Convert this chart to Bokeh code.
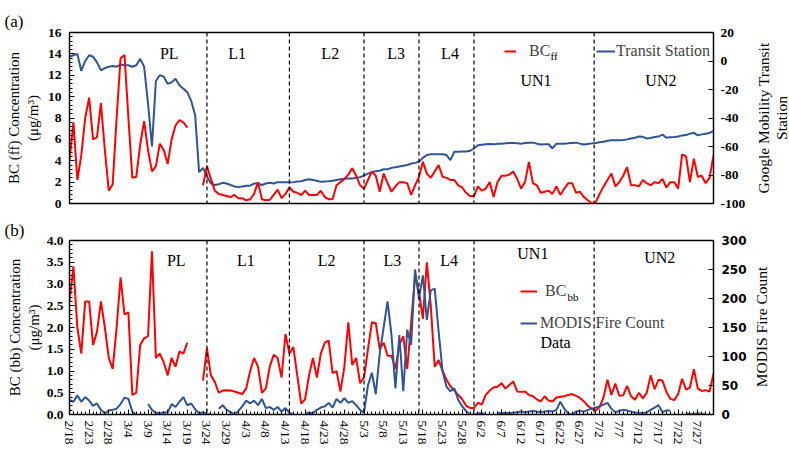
import math
import datetime
import numpy as np
from bokeh.plotting import figure
from bokeh.models import (Range1d, LinearAxis, FixedTicker, Span, Label, Legend,
                          LegendItem, ColumnDataSource, Title)
from bokeh.layouts import column, row
from bokeh.embed import file_html
from bokeh.resources import INLINE

nan = float("nan")

# ---------------- data ----------------
start_date = datetime.date(2020, 2, 18)
n_days = 165
day_index = list(range(n_days))
date_labels = [f"{d.month}/{d.day}" for d in
               (start_date + datetime.timedelta(days=i) for i in day_index)]

bc_ff = [
    4.0, 7.6, 2.2, 4.5, 8.0, 9.9, 6.0, 6.2, 9.4, 5.0,
    1.2, 1.8, 8.0, 13.6, 13.9, 8.0, 2.4, 2.5, 5.5, 7.7,
    5.0, 3.0, 3.5, 5.6, 5.0, 3.7, 6.0, 7.3, 7.8, 7.6,
    7.1, nan, nan, nan, 1.7, 3.5, 2.3, 1.2, 0.9, 0.8,
    0.7, 0.6, 0.8, 0.5, 0.5, 0.3, 0.4, 0.9, 2.0, 0.4,
    0.3, 0.35, 0.8, 1.3, 0.5, 0.9, 1.5, 1.1, 1.0, 0.8,
    1.2, 0.8, 0.8, 0.8, 1.2, 0.6, 0.4, 0.4, 1.7, 2.0,
    2.3, 2.7, 3.3, 2.6, 1.7, 1.4, 2.2, 3.0, 2.6, 1.1,
    2.8, 1.9, 1.1, 1.6, 2.0, 2.0, 1.9, 0.8, 1.7, 2.5,
    3.9, 2.8, 2.4, 3.0, 3.6, 2.5, 2.4, 2.2, 2.2, 1.7,
    1.5, 1.0, 0.7, 0.7, 1.6, 1.2, 1.4, 2.0, 0.6, 2.0,
    2.6, 2.6, 2.7, 3.0, 2.3, 1.4, 2.0, 3.9, 1.9, 1.7,
    1.0, 1.1, 1.2, 0.9, 1.6, 0.8, 1.4, 1.9, 1.9, 1.0,
    1.1, 0.6, 0.3, 0.0, 0.1, 0.9, 1.6, 2.2, 2.8, 1.6,
    2.0, 2.6, 3.4, 1.7, 1.7, 1.6, 2.2, 1.9, 1.7, 2.0,
    1.9, 2.3, 1.5, 2.0, 2.0, 1.4, 4.6, 4.4, 2.0, 4.2,
    2.5, 2.6, 1.9, 2.4, 4.5,
]

transit = [
    3, 4, 5, -7, 0, 4, 3, -1, -6.5, -5,
    -4, -3.5, -4, -2.5, -3, -3, -4, -3, 1.5, -4,
    -30, -60, -14, -10, -11, -16, -15, -12.5, -17, -19.5,
    -22, -28, -38, -78, -75, -81, -86, -87, -86.5, -85.5,
    -86, -87, -88, -88.5, -88, -87.5, -87.5, -86, -86, -87,
    -86, -85.5, -86, -85, -85, -85, -85.3, -85, -84.5, -84.4,
    -83.5, -83, -83.5, -84, -84.8, -84.5, -84.4, -84, -83.5, -83,
    -82.7, -82.5, -82.5, -82, -81.5, -80.5, -79, -78, -77.3, -77,
    -76, -76, -75, -74.5, -74, -73.5, -73, -72, -71.5, -70.7,
    -68, -66, -65.4, -65.4, -65.4, -65.5, -66, -69.6, -63.7, -63.7,
    -63.5, -63.5, -63, -61.4, -59.1, -58.7, -58.4, -58.2, -58.5, -58,
    -58, -57.8, -57.5, -57.5, -57.7, -58, -57.6, -57.3, -57.3, -58,
    -58.6, -58.5, -58.4, -61.4, -58, -58, -58, -57.8, -57.5, -57.3,
    -58, -58.6, -58.2, -57.8, -57.5, -57, -56.7, -56, -55.6, -55.6,
    -55.6, -55.4, -55, -54.4, -53.9, -53, -53.2, -54.4, -54, -53.3,
    -53, -51.6, -53.9, -53.5, -53.3, -53, -52.2, -52, -51, -50.4,
    -52.2, -51.5, -51, -50.5, -49,
]

bc_bb = [
    2.6, 3.4, 2.0, 1.4, 2.6, 2.6, 1.6, 1.9, 2.6, 2.0,
    1.3, 1.05, 2.0, 3.15, 2.3, 2.35, 0.45, 0.5, 1.6, 1.75,
    1.8, 3.75, 1.3, 1.4, 1.2, 0.9, 1.3, 1.1, 1.45, 1.4,
    1.65, nan, nan, nan, 0.78, 1.52, 0.9, 0.75, 0.5, 0.55,
    0.56, 0.55, 0.53, 0.5, 0.47, 0.6, 1.0, 1.3, 1.1, 0.5,
    0.6, 1.1, 1.37, 1.3, 0.85, 1.85, 1.4, 1.55, 0.9, 0.25,
    0.35, 0.9, 1.3, 0.85, 1.4, 1.65, 1.7, 0.95, 1.0, 0.53,
    1.1, 2.12, 1.14, 1.3, 0.72, 0.85, 1.5, 2.12, 2.1, 1.5,
    1.65, 1.35, 1.35, 1.05, 1.6, 1.8, 1.05, 2.1, 3.2, 2.8,
    2.2, 3.5, 2.5, 1.1, 1.25, 1.0, 0.8, 0.65, 0.55, 0.45,
    0.35, 0.2, 0.15, 0.15, 0.27, 0.23, 0.45, 0.55, 0.62, 0.64,
    0.72, 0.6, 0.68, 0.76, 0.53, 0.52, 0.53, 0.45, 0.42, 0.35,
    0.3, 0.42, 0.32, 0.3, 0.39, 0.41, 0.42, 0.45, 0.47, 0.43,
    0.38, 0.3, 0.2, 0.13, 0.09, 0.17, 0.4, 0.8, 0.45, 0.71,
    0.43, 0.44, 0.66, 0.42, 0.34, 0.5, 0.37, 0.5, 0.9, 0.58,
    0.8, 0.78, 0.52, 0.36, 0.33, 0.47, 0.82, 0.57, 0.62, 1.04,
    0.6, 0.54, 0.56, 0.53, 0.94,
]

fire = [
    25, 22, 33, 22, 30, 24, 15, 19, 8, 2,
    7, 8, 10, 18, 29, 27, 5, 0, nan, nan,
    18, 8, 3, 2, 4, 3, 18, 13, 22, 30,
    16, 19, 9, 2, 4, 1, 0, nan, 10, 16,
    8, 4, 0, 6, 14, 24, 19, 24, 16, 27,
    11, 13, 8, 13, 5, 11, 3, 0, nan, nan,
    2, 3, 2, 8, 12, 14, 20, 12, 27, 20,
    28, 20, 23, 16, 8, 3, 50, 72, 35, 105,
    150, 195, 137, 45, 137, 40, 146, 120, 250, 200,
    240, 163, 214, 217, 143, 75, 48, 40, 45, 25,
    14, 6, 0, 0, 2, 2, 1, nan, nan, 3,
    2, 3, 2, 3, 4, 5, 4, 5, 6, 5,
    4, 5, 6, 5, 8, 22, 10, 2, 0, 5,
    6, 5, 8, 10, 12, 14, 17, 20, 10, 4,
    6, 8, 7, 5, 3, 3, 2, 4, 8, 12,
    16, 4, 7, 7, nan, nan, nan, 2, 1, 1,
    2, 1, 1, nan, nan,
]

phase_bounds = [35, 56, 75, 89, 103, 133.6]
phase_names = ["PL", "L1", "L2", "L3", "L4", "UN1", "UN2"]

left_ticks_a = [0, 2, 4, 6, 8, 10, 12, 14, 16]
right_ticks_a = [-100, -80, -60, -40, -20, 0, 20]
left_ticks_b = [0.0, 0.5, 1.0, 1.5, 2.0, 2.5, 3.0, 3.5, 4.0]
right_ticks_b = [0, 50, 100, 150, 200, 250, 300]

# ---------------- style ----------------
SERIF = "Liberation Serif"
RED = "#FF0000"
BLUE = "#2F5597"
SIDE_W = 39          # strip on the far right carrying the right-hand axis titles
MAIN_W = 789 - SIDE_W
BORDER_L = 69
BORDER_R = 37

src = ColumnDataSource(dict(day=np.array(day_index, dtype=float),
                            bc_ff=np.array(bc_ff, dtype=float),
                            transit=np.array(transit, dtype=float),
                            bc_bb=np.array(bc_bb, dtype=float),
                            fire=np.array(fire, dtype=float)))


def style_axis(ax, font=SERIF, size="13.5px", bold=True, standoff=8, minor=True):
    ax.major_label_text_font = font
    ax.major_label_text_font_size = size
    ax.major_label_text_font_style = "bold" if bold else "normal"
    ax.major_label_text_color = "black"
    ax.major_label_standoff = standoff
    ax.axis_line_color = "black"
    ax.axis_line_width = 1.2
    ax.major_tick_in = 5
    ax.major_tick_out = 0
    ax.minor_tick_in = 3 if minor else 0
    ax.minor_tick_out = 0
    ax.major_tick_line_color = "black"
    ax.minor_tick_line_color = "black"


def set_axis_title(ax, text, size="15px", standoff=3):
    ax.axis_label = text
    ax.axis_label_text_font = SERIF
    ax.axis_label_text_font_size = size
    ax.axis_label_text_font_style = "normal"
    ax.axis_label_text_color = "black"
    ax.axis_label_standoff = standoff


def title_only_axis(p, side, text, size="15px"):
    ax = LinearAxis(ticker=FixedTicker(ticks=[], minor_ticks=[]),
                    axis_line_color=None, major_tick_line_color=None,
                    minor_tick_line_color=None, major_tick_in=0, major_tick_out=0,
                    minor_tick_in=0, minor_tick_out=0, major_label_standoff=0,
                    major_label_text_font_size="0px")
    set_axis_title(ax, text, size=size, standoff=0)
    p.add_layout(ax, side)


def add_text(p, x, y, text, size="16px", units="data", align="center", angle=0.0):
    p.add_layout(Label(x=x, y=y, x_units=units, y_units=units, text=text,
                       text_font=SERIF, text_font_size=size, text_color="black",
                       text_align=align, text_baseline="middle", angle=angle))


def base_fig(height, border_top, border_bottom, yr, tag, tag_standoff):
    p = figure(width=MAIN_W, height=height, x_range=Range1d(0, n_days - 1), y_range=yr,
               output_backend="svg", toolbar_location=None,
               min_border_left=BORDER_L, min_border_right=BORDER_R,
               min_border_top=border_top, min_border_bottom=border_bottom)
    p.grid.visible = False
    p.outline_line_color = "black"
    p.outline_line_width = 1.3
    p.background_fill_color = "white"
    p.border_fill_color = "white"
    p.add_layout(Title(text=tag, align="left", offset=-65, standoff=tag_standoff,
                       text_font=SERIF, text_font_size="17px",
                       text_font_style="normal", text_color="black"), "above")
    for b in phase_bounds:
        p.add_layout(Span(location=b, dimension="height", line_color="black",
                          line_dash="4 3", line_width=1.2))
    return p


def side_strip(height, texts, size="15px"):
    # its plot frame is aligned with the neighbouring panel's frame by the row layout
    s = figure(width=SIDE_W, height=height, x_range=Range1d(0, 1), y_range=Range1d(0, 1),
               output_backend="svg", toolbar_location=None, min_border=0,
               x_axis_location=None, y_axis_location=None)
    s.grid.visible = False
    s.outline_line_color = None
    s.background_fill_color = "white"
    s.border_fill_color = "white"
    for x, y, t in texts:
        add_text(s, x, y, t, size=size, units="screen", angle=math.pi / 2)
    return s


leg_common = dict(orientation="horizontal", padding=0, margin=0, spacing=0,
                  border_line_alpha=0, background_fill_alpha=0,
                  label_text_font=SERIF, label_text_font_size="16px",
                  label_height=20, glyph_height=20)

# ================= panel (a) =================
H_A = 218
pa = base_fig(H_A, 32, 15, Range1d(0, 16), "(a)", 4)
pa.extra_y_ranges = {"mob": Range1d(-100, 20)}
pa.xaxis.visible = False
pa.yaxis.ticker = FixedTicker(ticks=left_ticks_a,
                              minor_ticks=[round(0.4 * i, 2) for i in range(41)])
style_axis(pa.yaxis[0], standoff=8)
set_axis_title(pa.yaxis[0], "(μg/m³)", standoff=4)
title_only_axis(pa, "left", "BC (ff) Concentration")

ra = LinearAxis(y_range_name="mob", ticker=FixedTicker(ticks=right_ticks_a, minor_ticks=[]))
ra.major_label_overrides = {t: str(t) for t in right_ticks_a}
style_axis(ra, standoff=7, minor=False)
pa.add_layout(ra, "right")

r_tr = pa.line("day", "transit", source=src, y_range_name="mob", line_color=BLUE, line_width=2)
r_ff = pa.line("day", "bc_ff", source=src, line_color=RED, line_width=2)

pa_pos = {"PL": (25.4, 14.0), "L1": (42.7, 14.0), "L2": (66.4, 14.0), "L3": (83.2, 14.0),
          "L4": (96.9, 14.0), "UN1": (118.8, 11.5), "UN2": (150.6, 11.5)}
for name in phase_names:
    x, y = pa_pos[name]
    add_text(pa, x, y, name)

pa.add_layout(Legend(items=[LegendItem(label="BC", renderers=[r_ff])], location=(435, 142),
                     glyph_width=12, label_standoff=13, **leg_common))
pa.add_layout(Legend(items=[LegendItem(label="Transit Station", renderers=[r_tr])],
                     location=(527, 142), glyph_width=19, label_standoff=1, **leg_common))
add_text(pa, 481, 148, "ff", size="11px", units="screen", align="left")

sa = side_strip(H_A, [(13, 85.5, "Google Mobility Transit"),
                      (31, 85.5, "Station")], size="15.5px")

# ================= panel (b) =================
H_B = 449 - H_A
pb = base_fig(H_B, 21, 35, Range1d(0, 4), "(b)", 1)
pb.extra_y_ranges = {"fire": Range1d(0, 300)}
pb.xaxis.ticker = FixedTicker(ticks=list(range(0, n_days, 5)), minor_ticks=day_index)
pb.xaxis.major_label_overrides = {i: date_labels[i] for i in range(0, n_days, 5)}
style_axis(pb.xaxis[0], size="13.5px", bold=False, standoff=6)
pb.xaxis.major_label_orientation = -math.pi / 2
pb.yaxis.ticker = FixedTicker(ticks=left_ticks_b,
                              minor_ticks=[round(0.1 * i, 2) for i in range(41)])
pb.yaxis.major_label_overrides = {t: f"{t:.1f}" for t in left_ticks_b}
style_axis(pb.yaxis[0], standoff=6)
set_axis_title(pb.yaxis[0], "(μg/m³)", standoff=2)
title_only_axis(pb, "left", "BC (bb) Concentration")

rb = LinearAxis(y_range_name="fire", ticker=FixedTicker(ticks=right_ticks_b, minor_ticks=[]))
style_axis(rb, font="DejaVu Sans", size="12px", standoff=8, minor=False)
pb.add_layout(rb, "right")

r_bb = pb.line("day", "bc_bb", source=src, line_color=RED, line_width=2)
r_fire = pb.line("day", "fire", source=src, y_range_name="fire", line_color=BLUE, line_width=2)

pb_pos = {"PL": (27.2, 3.54), "L1": (44.9, 3.54), "L2": (65.5, 3.54), "L3": (82.2, 3.54),
          "L4": (96.7, 3.54), "UN1": (118.0, 3.7), "UN2": (150.3, 3.6)}
for name in phase_names:
    x, y = pb_pos[name]
    add_text(pb, x, y, name)

pb.add_layout(Legend(items=[LegendItem(label="BC", renderers=[r_bb])], location=(451, 113),
                     glyph_width=17, label_standoff=8, **leg_common))
pb.add_layout(Legend(items=[LegendItem(label="MODIS Fire Count", renderers=[r_fire])],
                     location=(451, 81), glyph_width=17, label_standoff=3, **leg_common))
add_text(pb, 498, 118, "bb", size="11px", units="screen", align="left")
add_text(pb, 471, 72, "Data", size="16px", units="screen", align="left")

sb = side_strip(H_B, [(11, 87.5, "MODIS Fire Count")], size="15.5px")

layout = column(row(pa, sa, spacing=0), row(pb, sb, spacing=0), spacing=0)
open("out.html", "w").write(file_html(layout, INLINE))
